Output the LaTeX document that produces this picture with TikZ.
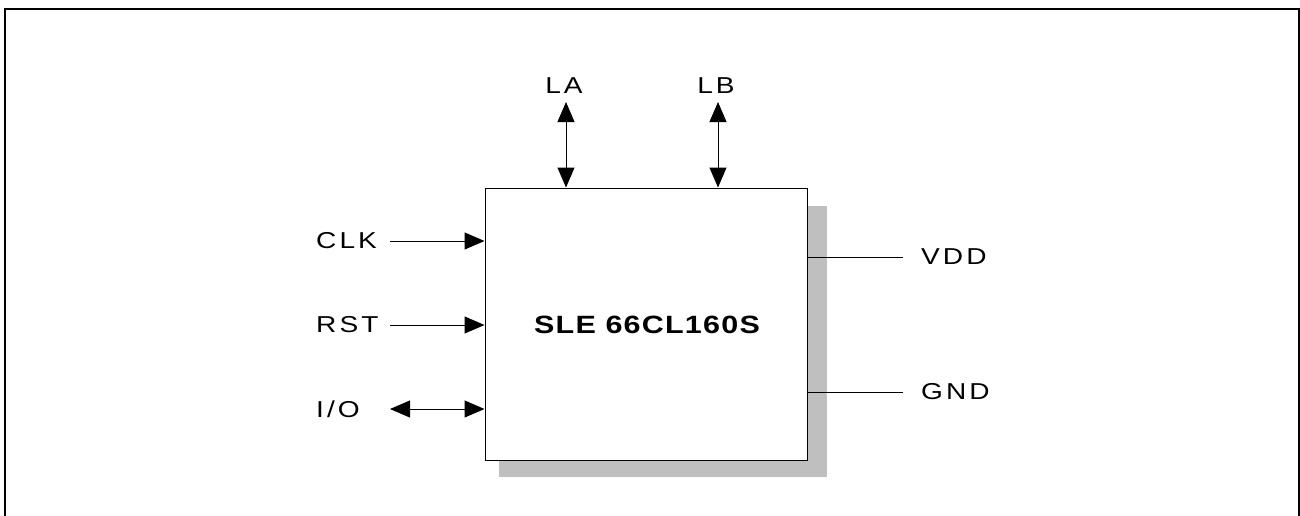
\documentclass[tikz,border=0pt]{standalone}
\usepackage{fontspec}
\setmainfont{Liberation Sans}
\newfontfamily\lblfont[LetterSpace=11]{Liberation Sans}
\newfontfamily\chipfont[LetterSpace=4]{Liberation Sans}
\newcommand{\widetxt}[1]{\scalebox{1.22}[1]{#1}}
\usetikzlibrary{arrows.meta}
\begin{document}
\begin{tikzpicture}[x=1pt,y=-1pt,
  lbl/.style={inner sep=0pt,font=\lblfont\fontsize{23}{27}\selectfont},
  tip/.style={-{Triangle[length=20pt,width=17pt]}},
  bitip/.style={{Triangle[length=20pt,width=17pt]}-{Triangle[length=20pt,width=17pt]}},
  wire/.style={line width=1pt}]
\useasboundingbox (0,0) rectangle (1300,515);
\draw[line width=2.5pt] (5,530) -- (5,9) -- (1299,9) -- (1299,530);
\fill[black!25] (499,206) rectangle (827,477);
\node[draw,fill=white,line width=1pt,minimum width=322pt,minimum height=272pt,inner sep=0pt] (chip) at (646,324) {};
\node[inner sep=0pt,font=\chipfont\bfseries\fontsize{25}{30}\selectfont] (name) at (647,325) {\widetxt{SLE 66CL160S}};
% left pins
\node[lbl,anchor=west] (clk) at (316,241) {\widetxt{CLK}};
\node[lbl,anchor=west] (rst) at (316,325) {\widetxt{RST}};
\node[lbl,anchor=west] (io) at (316,409) {\widetxt{I/O}};
\coordinate (clkS) at (390,241);
\coordinate (rstS) at (390,325);
\coordinate (ioS) at (390,409);
\draw[wire,tip] (clkS) -- (clk -| chip.west);
\draw[wire,tip] (rstS) -- (rst -| chip.west);
\draw[wire,bitip] (ioS) -- (io -| chip.west);
% top pins
\node[lbl] (la) at (564,86) {\widetxt{LA}};
\node[lbl] (lb) at (716,86) {\widetxt{LB}};
\coordinate (laT) at (566,102);
\coordinate (lbT) at (718,102);
\draw[wire,bitip] (laT) -- (laT |- chip.north);
\draw[wire,bitip] (lbT) -- (lbT |- chip.north);
% right pins
\node[lbl,anchor=west] (vdd) at (921,257) {\widetxt{VDD}};
\node[lbl,anchor=west] (gnd) at (921,392) {\widetxt{GND}};
\coordinate (vddE) at (903,257);
\coordinate (gndE) at (903,392);
\draw[wire] (vddE -| chip.east) -- (vddE);
\draw[wire] (gndE -| chip.east) -- (gndE);
\end{tikzpicture}
\end{document}
